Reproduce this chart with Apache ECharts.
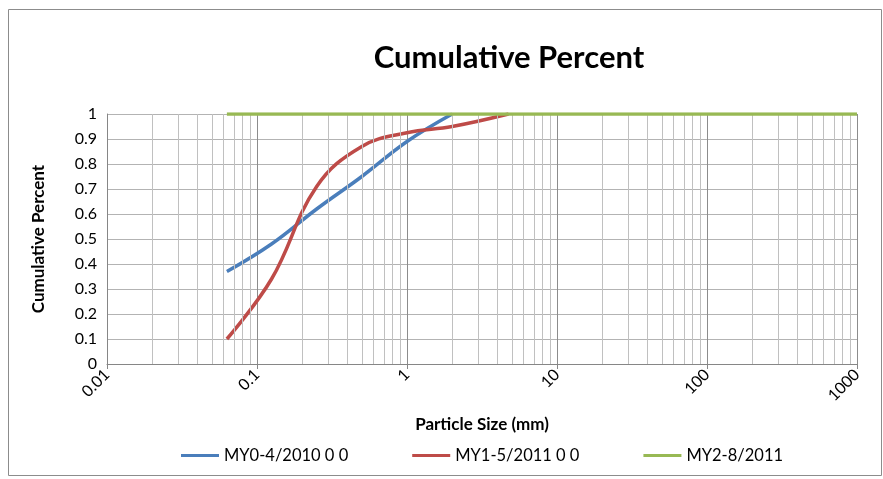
<!DOCTYPE html>
<html>
<head>
<meta charset="utf-8">
<script src="https://cdn.jsdelivr.net/npm/echarts@6/dist/echarts.min.js"></script>
<style>
html,body{margin:0;padding:0;background:#fff;}
#chartdiv{width:883px;height:479px;}
</style>
</head>
<body>
<div id="chartdiv"></div>
<script>
// sieve sizes (mm) and cumulative fractions
var sizesMY0 = [0.063, 0.125, 0.25, 0.5, 1, 2];
var valuesMY0 = [0.37, 0.48, 0.62, 0.75, 0.89, 1];

var sizesMY1 = [0.063, 0.125, 0.25, 0.5, 1, 2, 4.75];
var valuesMY1 = [0.1, 0.34, 0.71, 0.87, 0.925, 0.95, 1];

var sizesMY2 = [0.063, 1000];
var valuesMY2 = [1, 1];

var seriesNames = ["MY0-4/2010 0 0", "MY1-5/2011 0 0", "MY2-8/2011"];
var xTicks = [0.01, 0.1, 1, 10, 100, 1000];

function pairs(xs, ys) {
	var out = [];
	for (var i = 0; i < xs.length; i++) {
		out.push([xs[i], ys[i]]);
	}
	return out;
}

// minor vertical gridlines at 2..9 of each decade
var minorLines = [];
for (var d = 0; d < xTicks.length - 1; d++) {
	for (var k = 2; k <= 9; k++) {
		minorLines.push({xAxis: +(xTicks[d] * k).toPrecision(3)});
	}
}

var font = 'Lato, "Open Sans", sans-serif';

var option = {
	animation: false,
	title: {
		text: "Cumulative Percent",
		left: 504,
		top: 37,
		textAlign: "center",
		textStyle: {
			fontFamily: font,
			fontWeight: "bold",
			fontSize: 31,
			color: "#000"
		}
	},
	legend: {
		data: seriesNames,
		bottom: 10,
		left: 176,
		itemGap: 64,
		itemWidth: 38,
		itemHeight: 3,
		icon: "rect",
		textStyle: {fontFamily: font, fontSize: 16.5, color: "#000"}
	},
	grid: {left: 107, right: 26, top: 114, bottom: 115, containLabel: false},
	xAxis: {
		type: "log",
		logBase: 10,
		min: 0.01,
		max: 1000,
		name: "Particle Size (mm)",
		nameLocation: "middle",
		nameGap: 52,
		nameTextStyle: {fontFamily: font, fontWeight: "bold", fontSize: 17, color: "#000"},
		axisLine: {lineStyle: {color: "#868686", width: 1}},
		axisTick: {show: true, length: 5, lineStyle: {color: "#868686"}},
		axisLabel: {
			rotate: 45,
			fontFamily: font,
			fontSize: 16,
			color: "#000",
			margin: 8,
			formatter: function (v) { return String(v); }
		},
		splitLine: {show: true, lineStyle: {color: "#8c8c8c", width: 1}}
	},
	yAxis: {
		type: "value",
		min: 0,
		max: 1,
		interval: 0.1,
		name: "Cumulative Percent",
		nameLocation: "middle",
		nameGap: 60,
		nameTextStyle: {fontFamily: font, fontWeight: "bold", fontSize: 17, color: "#000"},
		axisLine: {show: true, lineStyle: {color: "#868686"}},
		axisTick: {show: false},
		axisLabel: {fontFamily: font, fontSize: 16, color: "#000", margin: 10},
		splitLine: {show: true, lineStyle: {color: "#b3b3b3", width: 1}}
	},
	graphic: [{
		type: "rect",
		shape: {x: 8.5, y: 9.5, width: 873, height: 466},
		style: {fill: "none", stroke: "#8c8c8c", lineWidth: 1},
		silent: true
	}],
	series: [
		{
			name: "grid-minor",
			type: "line",
			data: [],
			z: 1,
			silent: true,
			markLine: {
				silent: true,
				symbol: "none",
				label: {show: false},
				lineStyle: {color: "#c0c0c0", type: "solid", width: 1},
				data: minorLines
			}
		},
		{
			name: seriesNames[0],
			type: "line",
			smooth: 0.4,
			showSymbol: false,
			z: 3,
			color: "#4a7ebb",
			lineStyle: {width: 3.5},
			data: pairs(sizesMY0, valuesMY0)
		},
		{
			name: seriesNames[1],
			type: "line",
			smooth: 0.4,
			showSymbol: false,
			z: 4,
			color: "#be4b48",
			lineStyle: {width: 3.5},
			data: pairs(sizesMY1, valuesMY1)
		},
		{
			name: seriesNames[2],
			type: "line",
			showSymbol: false,
			z: 5,
			color: "#98b954",
			lineStyle: {width: 3.5},
			data: pairs(sizesMY2, valuesMY2)
		}
	]
};

var chart = echarts.init(document.getElementById("chartdiv"));
chart.setOption(option);
</script>
</body>
</html>
